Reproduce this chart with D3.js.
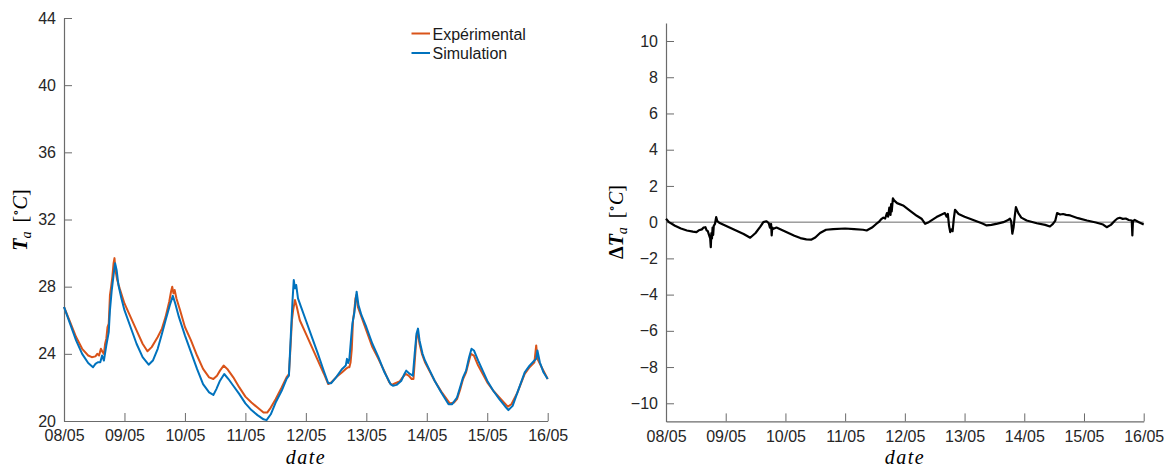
<!DOCTYPE html>
<html><head><meta charset="utf-8">
<script src="https://cdn.jsdelivr.net/npm/d3@7"></script>
<style>
body{margin:0;background:#fff}
svg{display:block}
text{font-family:"Liberation Sans",Arial,Helvetica,sans-serif}
</style>
</head><body>
<svg id="chart" width="1168" height="471"></svg>
<script>
// ---------- data ----------
const startDate = new Date(2016, 4, 8);
const dayCount = 8;
const seriesNames = ["Expérimental", "Simulation"];
const seriesColors = ["#D95319", "#0072BD"];

const expTime = [0,0.1,0.2,0.3,0.4,0.46,0.52,0.55,0.58,0.61,0.64,0.66,0.68,0.7,0.72,0.74,0.76,0.78,0.8,0.82,0.835,0.85,0.88,0.92,1.0,1.1,1.2,1.3,1.38,1.45,1.55,1.62,1.68,1.74,1.77,1.79,1.81,1.83,1.86,1.92,2.0,2.1,2.2,2.3,2.4,2.47,2.53,2.58,2.64,2.7,2.8,2.9,3.0,3.1,3.2,3.3,3.36,3.42,3.5,3.6,3.68,3.72,3.74,3.77,3.79,3.82,3.85,3.9,4.0,4.1,4.2,4.3,4.37,4.42,4.5,4.6,4.66,4.7,4.72,4.74,4.76,4.78,4.8,4.82,4.835,4.86,4.92,5.0,5.1,5.2,5.3,5.38,5.42,5.48,5.55,5.6,5.65,5.7,5.75,5.78,5.8,5.83,5.85,5.88,5.92,5.97,6.05,6.13,6.24,6.38,6.45,6.5,6.55,6.6,6.65,6.7,6.73,6.78,6.85,7.0,7.1,7.2,7.34,7.4,7.5,7.62,7.7,7.78,7.81,7.83,7.9,8.0];
const expValues = [26.8,25.9,25.0,24.3,23.9,23.8,23.85,24.0,23.9,24.3,24.1,24.0,24.6,24.9,25.6,25.8,27.5,28.0,28.6,29.4,29.7,29.0,28.4,27.9,27.0,26.2,25.4,24.6,24.15,24.4,25.0,25.5,26.2,27.1,27.7,28.0,27.6,27.8,27.3,26.6,25.6,24.8,23.9,23.1,22.6,22.5,22.7,23.0,23.3,23.1,22.6,22.0,21.45,21.1,20.8,20.5,20.5,20.8,21.3,22.0,22.6,22.8,24.0,26.0,26.6,27.2,26.8,26.0,25.2,24.4,23.6,22.8,22.2,22.3,22.6,22.9,23.1,23.2,23.2,23.5,24.3,26.0,26.5,27.3,27.5,26.8,26.2,25.4,24.4,23.7,22.95,22.3,22.15,22.25,22.35,22.6,22.8,22.7,22.5,22.5,23.5,25.0,25.3,24.6,24.0,23.5,22.95,22.4,21.75,21.05,21.1,21.3,21.85,22.5,22.9,23.6,24.0,23.9,23.3,22.3,21.8,21.4,20.85,21.0,21.7,22.8,23.2,23.5,24.5,23.7,23.2,22.5];

const simTime = [0,0.1,0.2,0.3,0.4,0.48,0.52,0.56,0.6,0.63,0.66,0.7,0.74,0.76,0.79,0.82,0.845,0.87,0.9,0.95,1.0,1.1,1.2,1.3,1.4,1.47,1.55,1.62,1.68,1.75,1.8,1.84,1.9,2.0,2.1,2.2,2.3,2.4,2.47,2.52,2.58,2.65,2.72,2.8,2.9,3.0,3.1,3.2,3.3,3.35,3.42,3.5,3.6,3.68,3.72,3.75,3.78,3.8,3.82,3.84,3.87,3.92,4.0,4.1,4.2,4.3,4.37,4.42,4.5,4.6,4.66,4.68,4.7,4.72,4.75,4.77,4.8,4.84,4.87,4.92,5.0,5.1,5.2,5.3,5.4,5.44,5.5,5.58,5.63,5.66,5.72,5.77,5.8,5.83,5.855,5.88,5.93,5.97,6.05,6.13,6.24,6.36,6.42,6.5,6.55,6.6,6.65,6.7,6.74,6.78,6.85,7.0,7.1,7.2,7.3,7.35,7.42,7.5,7.62,7.7,7.78,7.81,7.83,7.87,7.93,8.0];
const simValues = [26.8,25.8,24.8,24.0,23.45,23.2,23.4,23.5,23.5,23.9,23.6,24.5,25.3,26.6,27.8,28.7,29.4,29.0,28.1,27.3,26.6,25.6,24.6,23.8,23.35,23.6,24.3,25.2,26.0,26.9,27.45,27.0,26.2,25.1,24.1,23.1,22.2,21.7,21.55,21.9,22.4,22.8,22.5,22.1,21.6,21.05,20.65,20.35,20.1,20.05,20.4,21.1,21.8,22.5,22.7,25.0,27.2,28.4,27.9,28.1,27.3,26.8,26.0,25.0,24.0,22.95,22.25,22.25,22.6,23.1,23.3,23.7,23.45,23.7,25.0,25.8,26.4,27.7,26.9,26.3,25.6,24.6,23.8,22.9,22.2,22.1,22.15,22.4,22.8,23.0,22.8,22.7,24.0,25.2,25.5,24.8,24.0,23.6,23.0,22.4,21.7,21.0,21.0,21.4,22.0,22.6,23.0,23.8,24.3,24.2,23.6,22.4,21.8,21.3,20.85,20.65,20.9,21.7,22.9,23.3,23.6,23.7,24.2,23.5,22.9,22.5];

const deltaTime = [0,0.05,0.15,0.25,0.35,0.45,0.51,0.55,0.6,0.63,0.66,0.68,0.7,0.72,0.74,0.75,0.76,0.77,0.78,0.79,0.8,0.82,0.84,0.86,0.9,1.0,1.1,1.2,1.3,1.41,1.5,1.58,1.63,1.68,1.72,1.74,1.76,1.77,1.78,1.8,1.85,1.95,2.05,2.15,2.25,2.35,2.43,2.5,2.58,2.68,2.8,3.0,3.15,3.3,3.36,3.45,3.52,3.56,3.6,3.64,3.67,3.7,3.72,3.74,3.76,3.77,3.78,3.8,3.82,3.87,3.97,4.1,4.2,4.28,4.34,4.4,4.53,4.6,4.67,4.7,4.72,4.74,4.76,4.78,4.8,4.82,4.84,4.9,5.0,5.09,5.2,5.3,5.37,5.45,5.55,5.65,5.72,5.76,5.78,5.8,5.82,5.84,5.86,5.9,5.95,6.04,6.21,6.35,6.43,6.48,6.52,6.55,6.6,6.65,6.7,6.77,6.9,7.05,7.2,7.32,7.38,7.45,7.52,7.56,7.6,7.65,7.7,7.75,7.8,7.81,7.82,7.85,7.92,8.0];
const deltaValues = [0.19,0.0,-0.2,-0.35,-0.46,-0.52,-0.55,-0.45,-0.4,-0.3,-0.28,-0.45,-0.5,-0.7,-0.9,-1.38,-0.6,-0.9,-0.3,-0.7,-0.2,-0.1,0.28,0.05,-0.05,-0.2,-0.35,-0.5,-0.65,-0.86,-0.6,-0.25,0.0,0.05,-0.05,-0.3,-0.1,-0.73,-0.3,-0.37,-0.3,-0.45,-0.6,-0.75,-0.88,-0.95,-0.97,-0.85,-0.6,-0.42,-0.38,-0.35,-0.38,-0.42,-0.46,-0.3,-0.1,0.0,0.15,0.25,0.2,0.5,0.3,0.8,0.4,1.0,0.6,1.32,1.2,1.05,0.92,0.6,0.35,0.19,-0.09,0.0,0.28,0.4,0.5,0.3,0.45,-0.2,-0.55,-0.4,-0.5,0.2,0.68,0.45,0.3,0.19,0.05,-0.08,-0.18,-0.15,-0.08,0.0,0.1,0.19,0.05,-0.64,-0.3,0.3,0.83,0.5,0.25,0.09,-0.06,-0.15,-0.24,-0.1,0.09,0.5,0.42,0.45,0.4,0.37,0.22,0.09,-0.02,-0.13,-0.28,-0.15,0.09,0.2,0.24,0.18,0.2,0.12,0.09,-0.73,0.05,0.12,0.0,-0.13];

const leftYTicks = [20,24,28,32,36,40,44];
const rightYTicks = [-10,-8,-6,-4,-2,0,2,4,6,8,10];
const dateLabelFormat = "%d/%m";

// ---------- helpers ----------
const toDate = t => new Date(startDate.getTime() + t * 864e5);
const endDate = toDate(dayCount);
const dayTicks = d3.range(dayCount + 1).map(toDate);

const svg = d3.select("#chart");
const axisColor = "#6b6b6b";
const labelColor = "#262626";

function styleAxis(g) {
  g.select(".domain").attr("stroke", axisColor).attr("stroke-width", 1.2);
  g.selectAll(".tick line").attr("stroke", axisColor).attr("stroke-width", 1);
  g.selectAll(".tick text").attr("fill", labelColor).style("font-size", "16px")
    .style("font-family", '"Liberation Sans", Arial, sans-serif');
}

function panel(box, yDomain, yTicks) {
  const x = d3.scaleTime().domain([startDate, endDate]).range([box.x0, box.x1]);
  const y = d3.scaleLinear().domain(yDomain).range([box.y1, box.y0]);
  const gx = svg.append("g").attr("transform", `translate(0,${box.y1})`)
    .call(d3.axisBottom(x).tickValues(dayTicks).tickFormat(d3.timeFormat(dateLabelFormat))
      .tickSizeInner(-8).tickSizeOuter(0).tickPadding(9));
  styleAxis(gx);
  const gy = svg.append("g").attr("transform", `translate(${box.x0},0)`)
    .call(d3.axisLeft(y).tickValues(yTicks).tickSizeInner(-8).tickSizeOuter(0).tickPadding(8));
  styleAxis(gy);
  return {x, y};
}

// ---------- left panel ----------
const L = panel({x0: 64, x1: 547.7, y0: 18, y1: 421}, [20, 44], leftYTicks);
const lineL = (times) => d3.line().x((d, i) => L.x(toDate(times[i]))).y(d => L.y(d));

svg.append("path").datum(expValues).attr("d", lineL(expTime))
  .attr("fill", "none").attr("stroke", seriesColors[0]).attr("stroke-width", 2).attr("stroke-linejoin", "round");
svg.append("path").datum(simValues).attr("d", lineL(simTime))
  .attr("fill", "none").attr("stroke", seriesColors[1]).attr("stroke-width", 2).attr("stroke-linejoin", "round");

// legend
const legend = svg.append("g");
seriesNames.forEach((name, i) => {
  const yy = 33.5 + i * 19.5;
  legend.append("line").attr("x1", 411.5).attr("x2", 430).attr("y1", yy).attr("y2", yy)
    .attr("stroke", seriesColors[i]).attr("stroke-width", 2);
  legend.append("text").attr("x", 432.5).attr("y", yy + 6).text(name)
    .attr("fill", "#1a1a1a").style("font-size", "16px");
});

// ---------- right panel ----------
const R = panel({x0: 666, x1: 1143.7, y0: 22.9, y1: 421.4}, [-11, 11], rightYTicks);
svg.append("line").attr("x1", R.x(startDate)).attr("x2", R.x(endDate))
  .attr("y1", R.y(0)).attr("y2", R.y(0)).attr("stroke", "#6b6b6b").attr("stroke-width", 1);
svg.append("path").datum(deltaValues)
  .attr("d", d3.line().x((d, i) => R.x(toDate(deltaTime[i]))).y(d => R.y(d)))
  .attr("fill", "none").attr("stroke", "#000").attr("stroke-width", 2.2).attr("stroke-linejoin", "round");

// ---------- axis titles ----------
function yTitle(cx, cy, withDelta) {
  const t = svg.append("text").attr("transform", `translate(${cx},${cy}) rotate(-90)`)
    .attr("text-anchor", "middle").attr("fill", "#000")
    .style("font-family", '"Liberation Serif", "DejaVu Serif", serif').style("font-size", "20px");
  if (withDelta) t.append("tspan").text("Δ").style("font-weight", "bold");
  t.append("tspan").text("T").style("font-style", "italic").style("font-weight", "bold");
  t.append("tspan").text("a").style("font-style", "italic").style("font-size", "14px").attr("dy", 4);
  t.append("tspan").text(" [").attr("dx", 4).attr("dy", -4);
  t.append("tspan").text("∘").style("font-size", "13px").attr("dy", -7);
  t.append("tspan").text("C").style("font-style", "italic").attr("dy", 7);
  t.append("tspan").text("]");
}
yTitle(27, 220, false);
yTitle(623, 222, true);

function xTitle(cx) {
  svg.append("text").attr("x", cx).attr("y", 464).attr("text-anchor", "middle")
    .style("font-family", '"Liberation Serif", "DejaVu Serif", serif').style("font-size", "20px")
    .style("font-style", "italic").style("letter-spacing", "1.5px").text("date");
}
xTitle(306);
xTitle(905);
</script>
</body></html>
